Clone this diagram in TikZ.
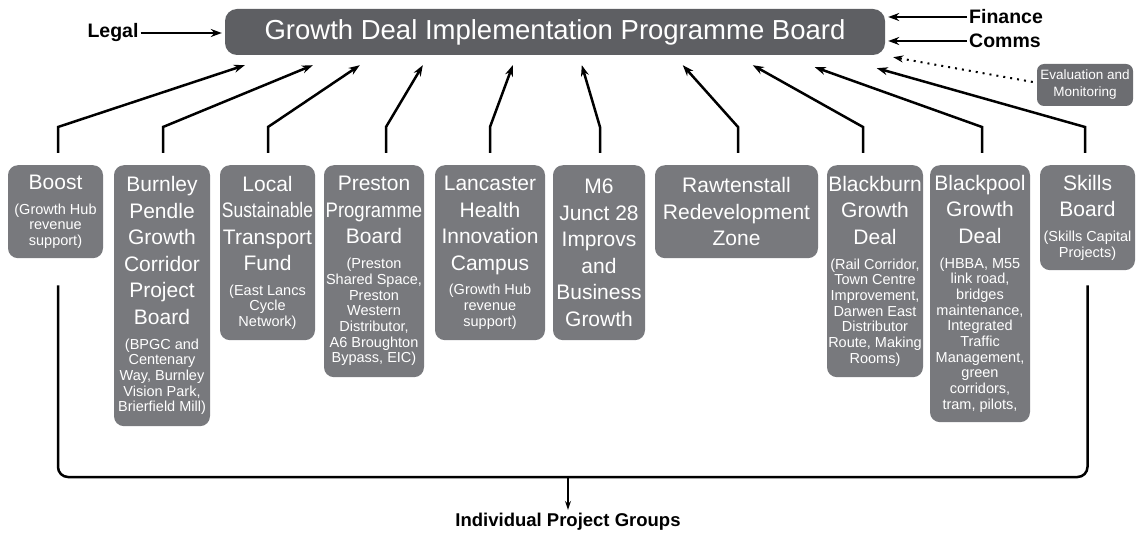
\documentclass[tikz,border=0pt]{standalone}
\usepackage{fontspec}
\usepackage{graphicx}
\setmainfont{Liberation Sans}
\usetikzlibrary{arrows.meta}
\hyphenpenalty=10000
\exhyphenpenalty=10000
\definecolor{boardgrey}{RGB}{94, 95, 99}
\definecolor{groupgrey}{RGB}{120, 121, 125}
\definecolor{evalgrey}{RGB}{108, 109, 113}
\newcommand{\grouptitle}{\fontsize{21}{26.5}\selectfont}
\newcommand{\groupnote}[1]{\par\vspace{9pt}\fontsize{14.5}{15.7}\selectfont #1\par}
\tikzstyle{group_box}=[rectangle, fill=groupgrey, text=white, rounded corners=10pt,
    anchor=north, inner xsep=0pt, inner ysep=0pt, align=flush center, font=\grouptitle]
\tikzstyle{side_label}=[font=\bfseries\fontsize{19.5}{22}\selectfont, inner sep=2pt]
\tikzstyle{feed_arrow}=[line width=2.5pt, -{Stealth[length=11pt, width=8pt]}]

\begin{document}
\begin{tikzpicture}[x=1pt, y=-1pt]
  \useasboundingbox (0,0) rectangle (1136,540);

  % The board everything reports to
  \node[fill=boardgrey, text=white, rounded corners=12pt, minimum width=660pt, minimum height=46pt,
        font=\fontsize{27.5}{30}\selectfont] (board) at (555,32) {Growth Deal Implementation Programme Board};

  % Side inputs
  \node[side_label] (legal) at (113,33) {Legal};
  \node[side_label, anchor=west] (finance) at (967,17) {Finance};
  \node[side_label, anchor=west] (comms) at (967,41) {Comms};
  \draw[feed_arrow, shorten >=3pt] (legal.east) -- (legal.east -| board.west);
  \draw[feed_arrow, shorten >=3pt] (finance.west) -- (finance.west -| board.east);
  \draw[feed_arrow, shorten >=3pt] (comms.west) -- (comms.west -| board.east);

  % Evaluation feeds in with a dotted line
  \node[fill=evalgrey, text=white, rounded corners=7pt, minimum width=96pt, minimum height=42pt,
        align=center, font=\fontsize{13.5}{17}\selectfont] (eval) at (1085,85) {Evaluation and\\Monitoring};
  \draw[line width=2pt, dash pattern=on 2pt off 5pt, -{Stealth[length=10pt, width=7pt]}]
    ([xshift=-4pt, yshift=3pt]eval.west) -- ([xshift=8pt, yshift=-2pt]board.south east);

  % Project groups, widths and heights taken from the layout
  \node[group_box, text width=95pt, minimum height=93pt] (boost) at (55.5,165)
    {Boost\groupnote{(Growth Hub\\revenue\\support)}};
  \node[group_box, text width=96pt, minimum height=261pt] (burnley) at (162,165)
    {Burnley\\Pendle\\Growth\\Corridor\\Project\\Board\groupnote{(BPGC and\\Centenary\\Way, Burnley\\Vision Park,\\Brierfield Mill)}};
  \node[group_box, text width=95pt, minimum height=175pt] (transport) at (267.5,165)
    {Local\\\scalebox{0.83}[1]{Sustainable}\\Transport\\Fund\groupnote{(East Lancs\\Cycle\\Network)}};
  \node[group_box, text width=100pt, minimum height=212pt] (preston) at (374,165)
    {Preston\\\scalebox{0.88}[1]{Programme}\\Board\groupnote{(Preston\\Shared Space,\\Preston\\Western\\Distributor,\\A6 Broughton\\Bypass, EIC)}};
  \node[group_box, text width=110pt, minimum height=175pt] (lancaster) at (490,165)
    {Lancaster\\Health\\Innovation\\Campus\groupnote{(Growth Hub\\revenue\\support)}};
  \node[group_box, text width=92pt, minimum height=175pt] (junction) at (599,165)
    {M6\\Junct 28\\Improvs\\and\\Business\\Growth\par};
  \node[group_box, text width=163pt, minimum height=93pt] (rawtenstall) at (736.5,165)
    {Rawtenstall\\Redevelopment\\Zone\par};
  \node[group_box, text width=96pt, minimum height=212pt] (blackburn) at (875,165)
    {Blackburn\\Growth\\Deal\groupnote{(Rail Corridor,\\Town Centre\\Improvement,\\Darwen East\\Distributor\\Route, Making\\Rooms)}};
  \node[group_box, text width=100pt, minimum height=257pt] (blackpool) at (980,165)
    {Blackpool\\Growth\\Deal\groupnote{(HBBA, M55\\link road,\\bridges\\maintenance,\\Integrated\\Traffic\\Management,\\green\\corridors,\\tram, pilots,}};
  \node[group_box, text width=95pt, minimum height=105pt] (skills) at (1087.5,165)
    {Skills\\Board\groupnote{(Skills Capital\\Projects)}};

  % Each group reports up to the board: short riser, then a slanted arrow
  \foreach \grp/\dx/\tip/\dy in {boost/2.5/20/10, burnley/1/88/10, transport/0.5/135/10,
      preston/12/198/10, lancaster/0/288/10, junction/1/357/10, rawtenstall/1.5/458/10,
      blackburn/-12/528/10, blackpool/2/590/12, skills/-2.5/652/13} {
      \draw[feed_arrow] ([xshift=\dx pt, yshift=12pt]\grp.north) -- ++(0,-26)
        -- ([xshift=\tip pt, yshift=-\dy pt]board.south west);
  }

  % Bracket below the groups
  \coordinate (join) at (568,477);
  \draw[line width=2.5pt, rounded corners=10pt]
    ([xshift=2.5pt, yshift=-27pt]boost.south) |- (join) -| ([yshift=-15pt]skills.south);
  \node[font=\bfseries\fontsize{18.5}{21}\selectfont] (groups) at (568,522) {Individual Project Groups};
  \draw[line width=1.5pt, -{Stealth[length=9pt, width=6pt]}] (join) -- (groups.north);

\end{tikzpicture}
\end{document}
